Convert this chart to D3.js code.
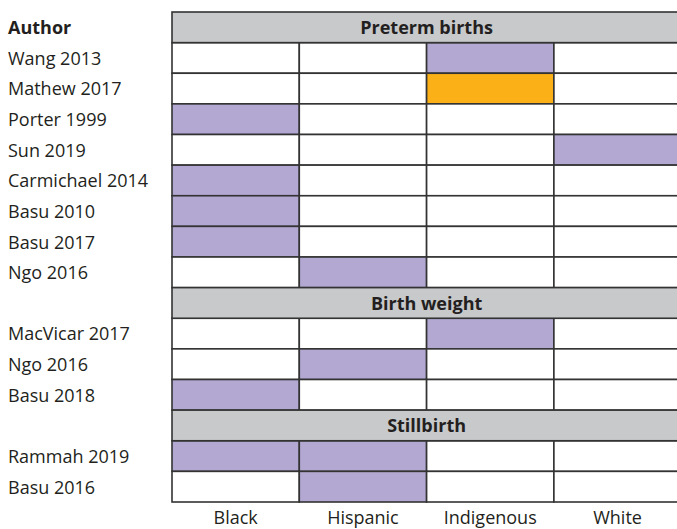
<!DOCTYPE html>
<html><head><meta charset="utf-8">
<script src="https://cdn.jsdelivr.net/npm/d3@7"></script>
<style>body{margin:0;background:#fff;overflow:hidden}svg{display:block}</style>
</head><body><svg id="c" width="677" height="529"></svg>
<script>
const groups = ["Black", "Hispanic", "Indigenous", "White"];
const sections = ["Preterm births", "Birth weight", "Stillbirth"];
const sectionStudies = [
  ["Wang 2013", "Mathew 2017", "Porter 1999", "Sun 2019", "Carmichael 2014", "Basu 2010", "Basu 2017", "Ngo 2016"],
  ["MacVicar 2017", "Ngo 2016", "Basu 2018"],
  ["Rammah 2019", "Basu 2016"]
];
// 0 = none, 1 = purple, 2 = orange; order: Black, Hispanic, Indigenous, White
const sectionValues = [
  [[0,0,1,0],[0,0,2,0],[1,0,0,0],[0,0,0,1],[1,0,0,0],[1,0,0,0],[1,0,0,0],[0,1,0,0]],
  [[0,0,1,0],[0,1,0,0],[1,0,0,0]],
  [[1,1,0,0],[0,1,0,0]]
];
const fills = ["#ffffff", "#b3a8d2", "#fbb018"];

const rows = [];
sections.forEach((s, si) => {
  rows.push({type: "header", key: "h" + si, label: s});
  sectionStudies[si].forEach((st, i) => rows.push({type: "study", key: "s" + si + "_" + i, label: st, vals: sectionValues[si][i]}));
});

const svg = d3.select("#c");
const font = "'Open Sans', sans-serif";
const fs = 18;
const x = d3.scaleBand().domain(groups).range([172, 172 + 4 * 127.3]).padding(0);
const y = d3.scaleBand().domain(rows.map(r => r.key)).range([12, 502]).padding(0);
const stroke = "#333";
const dy = "0.38em";

// cells
rows.filter(r => r.type === "study").forEach(r => {
  svg.selectAll(null).data(groups.map((g, i) => ({g, v: r.vals[i]}))).enter()
    .append("rect")
    .attr("x", d => x(d.g)).attr("y", y(r.key))
    .attr("width", x.bandwidth()).attr("height", y.bandwidth())
    .attr("fill", d => fills[d.v]).attr("stroke", stroke).attr("stroke-width", 1.6);
  svg.append("text").attr("x", 8).attr("y", y(r.key) + y.bandwidth() / 2)
    .attr("dy", dy).attr("font-family", font).attr("font-size", fs)
    .attr("fill", "#231f20").text(r.label);
});
// headers
rows.filter(r => r.type === "header").forEach(r => {
  svg.append("rect").attr("x", x.range()[0]).attr("y", y(r.key))
    .attr("width", x.range()[1] - x.range()[0]).attr("height", y.bandwidth())
    .attr("fill", "#c8c9cb").attr("stroke", stroke).attr("stroke-width", 1.6);
  svg.append("text").attr("x", (x.range()[0] + x.range()[1]) / 2).attr("y", y(r.key) + y.bandwidth() / 2)
    .attr("dy", dy).attr("text-anchor", "middle").attr("font-family", font)
    .attr("font-size", fs).attr("font-weight", "bold").attr("fill", "#231f20").text(r.label);
});
svg.append("text").attr("x", 8).attr("y", y("h0") + y.bandwidth() / 2).attr("dy", dy)
  .attr("font-family", font).attr("font-size", fs).attr("font-weight", "bold").attr("fill", "#231f20").text("Author");

// column labels
svg.selectAll(null).data(groups).enter().append("text")
  .attr("x", d => x(d) + x.bandwidth() / 2).attr("y", 524)
  .attr("text-anchor", "middle").attr("font-family", font).attr("font-size", fs)
  .attr("fill", "#231f20").text(d => d);
</script></body></html>
